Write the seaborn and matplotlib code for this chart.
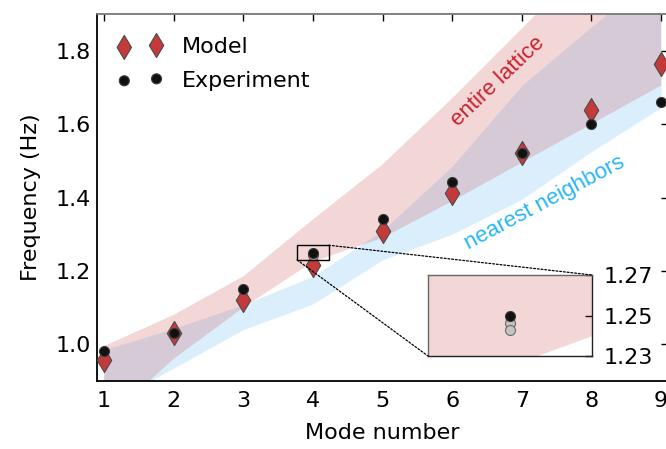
import numpy as np
import matplotlib
matplotlib.use("Agg")
import matplotlib.pyplot as plt
from matplotlib.patches import Rectangle, ConnectionPatch
import seaborn as sns

# ---- data ----
modes = [1, 2, 3, 4, 5, 6, 7, 8, 9]
model_freq = [0.956, 1.031, 1.120, 1.215, 1.310, 1.412, 1.520, 1.639, 1.764]
exp_freq = [0.981, 1.030, 1.151, 1.250, 1.342, 1.441, 1.521, 1.600, 1.661]
# extra (lighter) experimental repeats visible at mode 4 in the zoom inset
exp_extra_mode = [4, 4]
exp_extra_freq = [1.2463, 1.2430]

# shaded prediction bands
lattice_upper = [0.995, 1.080, 1.185, 1.340, 1.490, 1.670, 1.860, 2.050, 2.250]
lattice_lower = [0.790, 0.960, 1.100, 1.225, 1.290, 1.390, 1.495, 1.600, 1.705]
nn_upper = [0.985, 1.043, 1.108, 1.185, 1.310, 1.485, 1.705, 1.865, 2.020]
nn_lower = [0.830, 0.935, 1.040, 1.110, 1.230, 1.300, 1.395, 1.525, 1.645]

xticks = [1, 2, 3, 4, 5, 6, 7, 8, 9]
yticks = [1.0, 1.2, 1.4, 1.6, 1.8]
inset_yticks = [1.23, 1.25, 1.27]
inset_xlim = (3.773, 4.227)
inset_ylim = (1.23, 1.27)

# ---- style ----
sns.set_theme(style="white")
plt.rcParams["font.family"] = ["DejaVu Sans"]
plt.rcParams.update({"text.color": "black", "axes.labelcolor": "black",
                     "xtick.color": "black", "ytick.color": "black"})

RED = "#c43a3a"
BLUE = "#29b6f6"
PINK_FILL = (196/255, 58/255, 58/255)
BLUE_FILL = (41/255, 160/255, 240/255)

fig = plt.figure(figsize=(6.66, 4.49), dpi=100)
ax = fig.add_axes([97/666, 1 - 381/449, 571/666, 367/449])


def draw_bands(a):
    a.fill_between(modes, nn_lower, nn_upper, color=BLUE_FILL, alpha=0.17,
                   linewidth=0, zorder=1)
    a.fill_between(modes, lattice_lower, lattice_upper, color=PINK_FILL,
                   alpha=0.20, linewidth=0, zorder=1)


draw_bands(ax)

sns.scatterplot(x=modes, y=model_freq, marker="d", s=150, color=RED,
                edgecolor="#4a4a4a", linewidth=0.8, label="Model", ax=ax,
                zorder=3)
sns.scatterplot(x=exp_extra_mode, y=exp_extra_freq, marker="o", s=52,
                color="#c4c4c4", edgecolor="#6a6a6a", linewidth=0.8,
                ax=ax, zorder=4, legend=False)
sns.scatterplot(x=modes, y=exp_freq, marker="o", s=52, color="#111111",
                edgecolor="#3a3a3a", linewidth=0.8, label="Experiment",
                ax=ax, zorder=5)

ax.set_xlim(0.9, 9.1)
ax.set_ylim(0.9, 1.9)
ax.set_xticks(xticks)
ax.set_yticks(yticks)
ax.set_yticklabels([f"{v:.1f}" for v in yticks])
ax.tick_params(direction="in", length=5, width=1, top=True, right=True,
               labelsize=16, colors="black")
ax.tick_params(axis="y", pad=4.5)
ax.tick_params(axis="x", pad=7)
for side in ["left", "bottom"]:
    ax.spines[side].set_color("black")
    ax.spines[side].set_linewidth(1.3)
ax.spines["top"].set_color("#777777")
ax.spines["top"].set_linewidth(1.3)
ax.spines["right"].set_visible(False)

ax.set_xlabel("Mode number", fontsize=16, labelpad=9)
ax.set_ylabel("Frequency (Hz)", fontsize=16, labelpad=10)

leg = ax.legend(loc="upper left", bbox_to_anchor=(0.005, 0.985),
                frameon=False, scatterpoints=2, fontsize=16,
                handletextpad=0.85, borderaxespad=0.4, labelspacing=0.6,
                handlelength=2.05)

ax.text(6.66, 1.715, "entire lattice", color="#c8232c", fontsize=16,
        family=["Liberation Sans", "DejaVu Sans"],
        rotation=43.5, ha="center", va="center", rotation_mode="anchor",
        zorder=2)
ax.text(7.33, 1.385, "nearest neighbors", color=BLUE, fontsize=16,
        family=["Liberation Sans", "DejaVu Sans"],
        rotation=28, ha="center", va="center", rotation_mode="anchor",
        zorder=2)

# ---- inset ----
axins = fig.add_axes([428/666, 1 - 356/449, 164/666, 81/449])
draw_bands(axins)
sns.scatterplot(x=exp_extra_mode, y=exp_extra_freq, marker="o", s=52,
                color="#c4c4c4", edgecolor="#6a6a6a", linewidth=0.8,
                ax=axins, zorder=4, legend=False)
sns.scatterplot(x=modes, y=exp_freq, marker="o", s=52, color="#111111",
                edgecolor="#3a3a3a", linewidth=0.8, ax=axins, zorder=5,
                legend=False)
sns.scatterplot(x=modes, y=model_freq, marker="d", s=150, color=RED,
                edgecolor="#4a4a4a", linewidth=0.8, ax=axins, zorder=3,
                legend=False)
axins.set_xlim(*inset_xlim)
axins.set_ylim(*inset_ylim)
axins.set_xticks([])
axins.set_yticks(inset_yticks)
axins.set_yticklabels([f"{v:.2f}" for v in inset_yticks])
axins.yaxis.tick_right()
axins.tick_params(axis="y", direction="in", length=5, width=1,
                  labelsize=16, pad=8, left=False, right=True)
for side in axins.spines:
    axins.spines[side].set_color("#222222")
    axins.spines[side].set_linewidth(1.0)
axins.spines["top"].set_color("#666666")
axins.spines["left"].set_color("#666666")

rect = Rectangle((inset_xlim[0], inset_ylim[0]),
                 inset_xlim[1] - inset_xlim[0], inset_ylim[1] - inset_ylim[0],
                 fill=False, edgecolor="black", linewidth=1.0, zorder=6)
ax.add_patch(rect)
for (xa, ya), (xb, yb) in [((inset_xlim[1], inset_ylim[1]), (1, 1)),
                           ((inset_xlim[0], inset_ylim[0]), (0, 0))]:
    con = ConnectionPatch(xyA=(xa, ya), coordsA=ax.transData,
                          xyB=(xb, yb), coordsB=axins.transAxes,
                          linestyle=(0, (1.5, 1.5)), color="black",
                          linewidth=0.9, zorder=6)
    fig.add_artist(con)

fig.savefig("out.png", dpi=100)
